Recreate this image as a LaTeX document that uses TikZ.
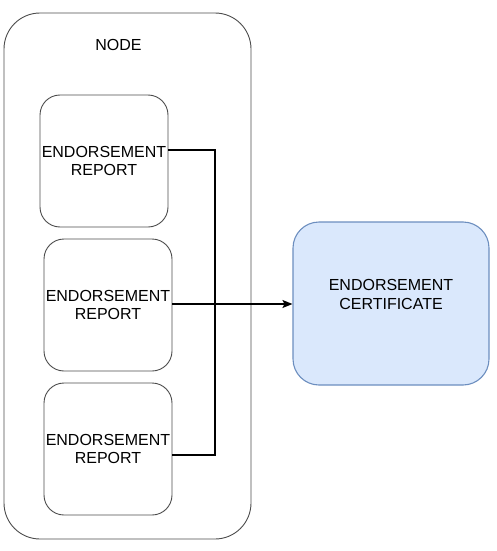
\documentclass[tikz,border=0pt]{standalone}
\usepackage{fontspec}
\setmainfont{Liberation Sans}
\usetikzlibrary{arrows.meta}
\definecolor{bluefill}{HTML}{DAE8FC}
\definecolor{bluestroke}{HTML}{6C8EBF}
\tikzset{
  lbl/.style={font=\fontsize{16}{18.5}\selectfont, align=center, text=black, inner sep=0pt},
  container/.style={draw=black!70, line width=0.9pt, rounded corners=36pt, inner sep=0pt},
  reportbox/.style={draw=black!70, line width=0.9pt, rounded corners=20pt, minimum width=128pt, minimum height=132pt, inner sep=0pt, lbl},
  certbox/.style={draw=bluestroke, fill=bluefill, line width=1.1pt, rounded corners=26pt, minimum width=196pt, minimum height=163pt, inner sep=0pt},
  conn/.style={line width=1.5pt, black},
}
\begin{document}
\begin{tikzpicture}[x=1pt,y=-1pt]
\useasboundingbox (0,0) rectangle (496,551);
\node[container, minimum width=247pt, minimum height=526pt] (outer) at (127.5,276) {};
\node[lbl] (nodelbl) at (118.5,45) {NODE};
\node[reportbox] (b1) at (104,161) {ENDORSEMENT\\REPORT};
\node[reportbox] (b2) at (108,305) {ENDORSEMENT\\REPORT};
\node[reportbox] (b3) at (108,449) {ENDORSEMENT\\REPORT};
\node[certbox] (cert) at (391,303.5) {};
\node[lbl] (certlbl) at (391,294.5) {ENDORSEMENT\\CERTIFICATE};
\coordinate (j) at (215,304);
\draw[conn] ([yshift=11pt]b1.east) -| (j);
\draw[conn] ([yshift=-6pt]b3.east) -| (j);
\draw[conn, -{Stealth[length=10pt,width=8pt,inset=2pt]}] ([yshift=1pt]b2.east) -- (cert.west |- j);
\end{tikzpicture}
\end{document}
